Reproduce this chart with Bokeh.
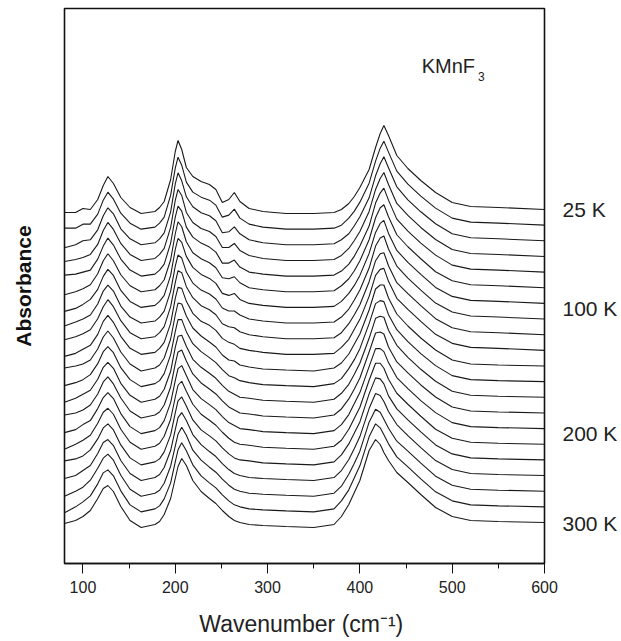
from bokeh.plotting import figure
from bokeh.models import (Range1d, LinearAxis, FixedTicker, SingleIntervalTicker, Label)
from bokeh.embed import file_html
from bokeh.resources import INLINE

# ---------------- data ----------------
# absorbance (units of 0.01) at each wavenumber (cm-1); each list runs over the
# 21 spectra from 25 K (first) to 300 K (last)
absorbance = {
    80:  [-3,-3,-7,-5,-3,-7,-8,-7,-5,-6,-2,-4,-5,-2,-4,-5,-1,-3,-5,-6,-1],
    92:  [-3,-3,-4,-3,-2,-4,-5,-3,-2,-3,0,-1,-1,0,-1,0,1,0,0,0,2],
    100: [1,1,0,-1,0,-1,-1,0,1,1,2,2,3,3,4,4,4,5,4,5,6],
    108: [0,1,1,2,2,3,4,4,5,5,6,7,7,8,8,9,10,10,11,11,12],
    116: [10,11,11,12,13,14,14,15,16,16,17,18,18,19,20,21,21,22,23,23,24],
    122: [24,25,25,26,26,27,27,28,28,29,29,30,30,31,31,32,32,33,33,34,34],
    127: [33,33,33,34,34,34,34,34,35,35,35,35,35,36,36,36,36,36,37,37,37],
    133: [26,26,27,27,27,27,28,28,28,28,28,29,29,29,30,30,30,30,31,31,31],
    141: [12,12,12,13,13,13,13,13,14,14,14,14,14,15,15,15,15,15,16,16,16],
    151: [2,2,2,2,2,2,2,2,2,2,2,2,2,2,2,2,2,2,2,2,2],
    163: [-4,-4,-4,-4,-4,-4,-4,-4,-4,-4,-5,-5,-5,-5,-5,-5,-5,-5,-5,-5,-5],
    178: [-2,-2,-2,-2,-2,-2,-2,-2,-2,-2,-2,-2,-2,-2,-2,-2,-2,-2,-2,-2,-2],
    183: [2,2,2,2,2,2,2,2,2,2,1,1,1,1,1,1,1,1,1,1,1],
    188: [8,8,8,8,8,8,8,8,8,8,8,8,8,8,8,8,8,8,8,8,8],
    195: [30,30,29,29,29,28,28,28,28,27,27,27,26,26,26,25,25,25,25,24,24],
    200: [58,57,57,56,55,54,54,53,52,52,51,50,50,49,48,47,47,46,45,45,44],
    203: [69,68,68,67,66,66,65,64,64,63,63,62,61,61,60,59,59,58,57,57,56],
    207: [60,60,60,61,61,61,61,61,62,62,62,62,62,63,63,63,63,63,64,64,64],
    212: [42,43,44,44,45,46,47,47,48,49,50,50,51,52,53,53,54,55,56,56,57],
    219: [33,33,34,34,35,35,36,36,37,37,38,38,38,39,39,40,40,41,41,42,42],
    228: [28,28,28,28,29,29,29,29,29,29,30,30,30,30,30,30,30,31,31,31,31],
    237: [25,25,25,25,25,25,25,25,25,25,24,24,24,24,24,24,24,24,24,24,24],
    244: [20,20,20,20,20,20,20,20,20,20,19,19,19,19,19,19,19,19,19,19,19],
    251: [7,8,8,9,9,10,10,11,11,12,11,12,12,12,12,12,12,12,12,12,12],
    258: [10,10,9,9,9,9,8,8,8,8,6,6,6,6,6,6,6,6,6,6,6],
    264: [17,16,14,13,12,11,10,8,7,6,5,4,3,3,3,2,2,2,2,2,2],
    270: [8,7,7,6,5,5,4,4,3,2,1,1,0,0,0,0,0,0,0,0,0],
    280: [1,1,1,1,0,0,0,0,0,0,-1,-1,-1,-1,-1,-1,-1,-2,-2,-2,-2],
    295: [-2,-2,-2,-2,-2,-2,-2,-2,-2,-2,-3,-3,-3,-3,-3,-3,-3,-3,-3,-3,-3],
    320: [-4,-4,-4,-4,-4,-4,-4,-4,-4,-4,-4,-4,-4,-4,-4,-4,-4,-4,-4,-4,-4],
    350: [-4,-4,-4,-4,-4,-4,-4,-4,-4,-4,-5,-5,-5,-5,-5,-5,-5,-5,-5,-5,-5],
    372: [-3,-3,-3,-3,-3,-3,-3,-3,-3,-3,-2,-2,-2,-2,-2,-2,-2,-2,-2,-2,-2],
    380: [0,0,1,1,1,2,2,2,2,3,3,3,4,4,4,4,5,5,5,6,6],
    388: [6,7,7,8,8,9,10,10,11,11,12,13,13,14,14,15,16,16,17,17,18],
    394: [13,14,15,16,16,17,18,19,20,21,22,22,23,24,25,26,27,27,28,29,30],
    400: [22,23,24,25,26,27,28,29,30,31,32,33,34,35,36,37,38,39,40,41,42],
    410: [40,42,43,45,46,48,50,51,53,54,56,58,59,61,62,64,66,67,69,70,72],
    417: [62,64,65,67,69,70,71,73,74,75,77,78,79,80,80,81,82,82,82,83,83],
    422: [76,77,77,78,79,80,80,81,81,81,81,81,81,81,80,81,81,80,79,79,78],
    426: [84,84,84,84,84,83,83,83,82,82,81,80,80,79,77,76,76,74,72,72,70],
    431: [74,73,73,72,72,71,70,70,69,69,68,67,67,66,66,65,64,64,63,63,62],
    440: [54,54,54,53,53,53,53,53,52,52,52,52,52,51,51,51,51,51,50,50,50],
    452: [41,41,41,41,41,41,41,41,41,41,40,40,40,40,40,40,40,40,40,40,40],
    466: [29,29,29,29,29,29,29,29,29,29,28,28,28,28,28,28,28,28,28,28,28],
    482: [17,17,17,17,17,16,16,16,16,16,16,16,16,16,16,15,15,15,15,15,15],
    500: [7,7,7,7,7,7,7,7,7,7,6,6,6,6,6,6,6,6,6,6,6],
    520: [3,3,3,3,3,3,3,3,3,3,2,2,2,2,2,2,2,2,2,2,2],
    550: [2,2,2,2,2,2,2,2,2,2,1,1,1,1,1,1,1,1,1,1,1],
    600: [0,0,0,0,0,0,0,0,0,0,0,0,0,0,0,0,0,0,0,0,0],
}
n_spectra = 21
temp_labels = ["25 K", "100 K", "200 K", "300 K"]

# ---------------- layout / style ----------------
FONT = "Liberation Sans"
TOP_OFFSET = 3.54     # vertical offset of the 25 K trace
STEP = 0.1565         # stacking step between traces
label_y = [3.54, 2.55, 1.30, 0.40]

wavenumber = sorted(absorbance.keys())

p = figure(width=620, height=640, output_backend="svg", toolbar_location=None,
           x_range=Range1d(80, 600), y_range=Range1d(0, 5.55),
           min_border_left=64, min_border_right=73, min_border_top=8, min_border_bottom=77)
p.background_fill_color = "white"
p.border_fill_color = "white"
p.grid.visible = False
p.outline_line_color = "#111111"
p.outline_line_width = 1.6

for i in range(n_spectra):
    off = TOP_OFFSET - STEP * i
    ys = [off + absorbance[w][i] / 100.0 for w in wavenumber]
    p.line(wavenumber, ys, line_color="#1a1a1a", line_width=1.1)

# bottom axis
xa = p.xaxis[0]
xa.ticker = SingleIntervalTicker(interval=100, num_minor_ticks=2)
xa.axis_line_color = "#111111"
xa.axis_line_width = 1.6
xa.major_tick_in = 0
xa.major_tick_out = 10
xa.minor_tick_in = 0
xa.minor_tick_out = 5
xa.major_tick_line_color = "#111111"
xa.minor_tick_line_color = "#111111"
xa.major_label_text_font = FONT
xa.major_label_text_font_size = "16px"
xa.major_label_text_color = "#222222"
xa.major_label_standoff = 7
xa.axis_label = "Wavenumber  (cm\u207b\u00b9)"
xa.axis_label_text_font = FONT
xa.axis_label_text_font_size = "23px"
xa.axis_label_text_font_style = "normal"
xa.axis_label_text_color = "#222222"
xa.axis_label_standoff = 15

# left axis: label only
ya = p.yaxis[0]
ya.ticker = FixedTicker(ticks=[])
ya.axis_line_color = None
ya.major_tick_line_color = None
ya.minor_tick_line_color = None
ya.major_label_text_font_size = "0px"
ya.axis_label = "Absorbance"
ya.axis_label_text_font = FONT
ya.axis_label_text_font_size = "21px"
ya.axis_label_text_font_style = "bold"
ya.axis_label_text_color = "#111111"
ya.axis_label_standoff = 30

# right axis: temperature labels
ra = LinearAxis(ticker=FixedTicker(ticks=label_y),
                major_label_overrides={y: t for y, t in zip(label_y, temp_labels)})
ra.axis_line_color = None
ra.major_tick_line_color = None
ra.minor_tick_line_color = None
ra.major_tick_in = 0
ra.major_tick_out = 0
ra.major_label_standoff = 18
ra.major_label_text_font = FONT
ra.major_label_text_font_size = "21px"
ra.major_label_text_color = "#222222"
p.add_layout(ra, "right")

p.add_layout(Label(x=467, y=4.98, text="KMnF", text_font=FONT, text_font_size="20px",
                   text_color="#222222", text_baseline="middle", text_align="left"))
p.add_layout(Label(x=528, y=4.87, text="3", text_font=FONT, text_font_size="12px",
                   text_color="#222222", text_baseline="middle", text_align="left"))

open("out.html", "w").write(file_html(p, INLINE))
